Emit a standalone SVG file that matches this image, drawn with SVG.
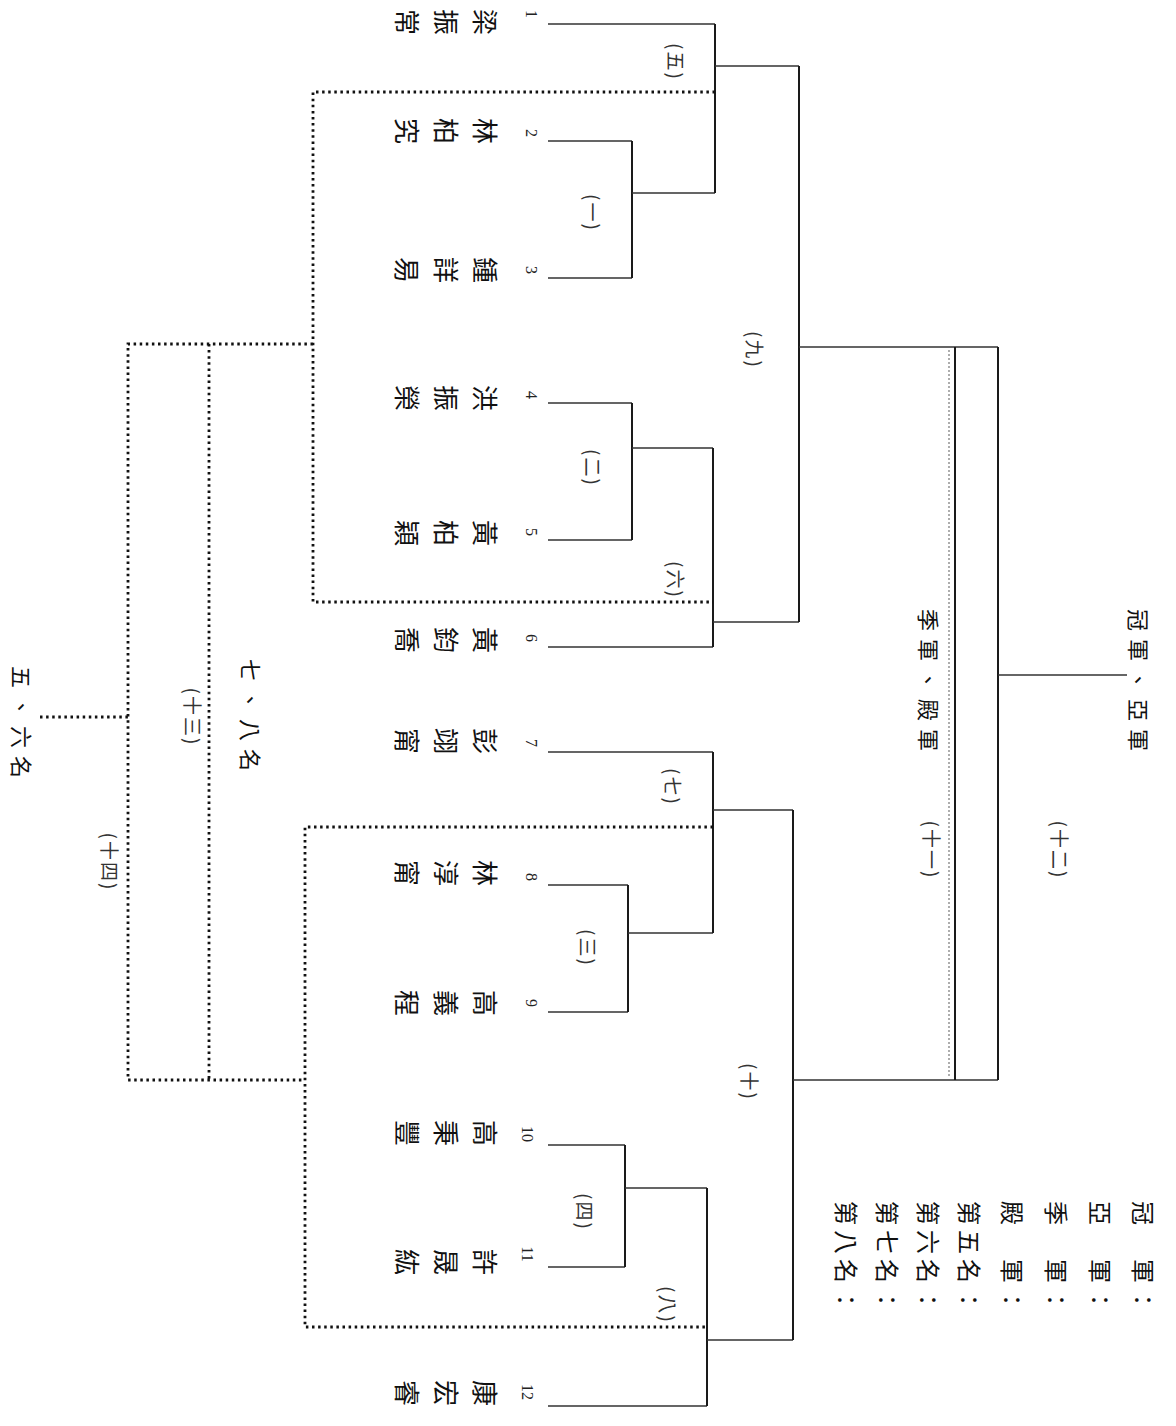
<svg xmlns="http://www.w3.org/2000/svg" width="1176" height="1426" viewBox="0 0 1176 1426">
<style>
text{font-family:"Noto Sans CJK TC","Noto Sans CJK SC",sans-serif;fill:#111;text-anchor:middle;dominant-baseline:central}
.nm{font-size:26px}
.num{font-family:"Liberation Serif",serif;font-size:16px;fill:#222}
.mt{font-size:19px;fill:#333;letter-spacing:2px}
.big{font-size:22px;letter-spacing:8px}
.leg{font-size:24px;letter-spacing:5px;text-anchor:start}
.s{stroke:#1a1a1a;stroke-width:2;fill:none}
.h{stroke:#333;stroke-width:1.6;fill:none}
.d{stroke:#111;stroke-width:2.8;stroke-dasharray:2.5 3.6;fill:none}
.g{stroke:#999;stroke-width:1.6;stroke-dasharray:2 2;fill:none}
</style>
<rect width="1176" height="1426" fill="#fff"/>
<g id="connectors">
<path class="h" d="M548 24H715M548 141H632M548 278H632M548 403H632M548 540H632M548 647H713M548 752H713M548 885H628M548 1012H628M548 1145H625M548 1267H625M548 1406H707"/>
<path class="s" d="M632 141V278M632 403V540M628 885V1012M625 1145V1267"/>
<path class="h" d="M632 193H715M632 448H713M628 933H713M625 1188H707"/>
<path class="s" d="M715 24V193M713 448V647M713 752V933M707 1188V1406"/>
<path class="h" d="M715 66H799M713 622H799M713 810H793M707 1340H793"/>
<path class="s" d="M799 66V622M793 810V1340"/>
<path class="h" d="M799 347H998M793 1080H998"/>
<path class="s" d="M998 347V1080M955 347V1080"/>
<path class="g" d="M949 350V1078"/>
<path class="h" d="M998 675H1127"/>
<path class="d" d="M715 92H313V602H713M313 344H128V1080H305M209 344V1080M713 827H305V1327H707M40 717H128"/>
</g>
<g id="players">
<g id="p1"><text class="num" transform="translate(531,14) rotate(90)">1</text><text class="nm" transform="translate(487,22) rotate(90)"><tspan x="0" y="0">梁</tspan><tspan x="0" y="39">振</tspan><tspan x="0" y="78">常</tspan></text></g>
<g id="p2"><text class="num" transform="translate(531,133) rotate(90)">2</text><text class="nm" transform="translate(487,131) rotate(90)"><tspan x="0" y="0">林</tspan><tspan x="0" y="39">柏</tspan><tspan x="0" y="78">究</tspan></text></g>
<g id="p3"><text class="num" transform="translate(531,270) rotate(90)">3</text><text class="nm" transform="translate(487,270) rotate(90)"><tspan x="0" y="0">鍾</tspan><tspan x="0" y="39">詳</tspan><tspan x="0" y="78">易</tspan></text></g>
<g id="p4"><text class="num" transform="translate(531,395) rotate(90)">4</text><text class="nm" transform="translate(487,398) rotate(90)"><tspan x="0" y="0">洪</tspan><tspan x="0" y="39">振</tspan><tspan x="0" y="78">榮</tspan></text></g>
<g id="p5"><text class="num" transform="translate(531,532) rotate(90)">5</text><text class="nm" transform="translate(487,533) rotate(90)"><tspan x="0" y="0">黃</tspan><tspan x="0" y="39">柏</tspan><tspan x="0" y="78">穎</tspan></text></g>
<g id="p6"><text class="num" transform="translate(531,638) rotate(90)">6</text><text class="nm" transform="translate(487,640) rotate(90)"><tspan x="0" y="0">黃</tspan><tspan x="0" y="39">鈞</tspan><tspan x="0" y="78">喬</tspan></text></g>
<g id="p7"><text class="num" transform="translate(531,743) rotate(90)">7</text><text class="nm" transform="translate(487,741) rotate(90)"><tspan x="0" y="0">彭</tspan><tspan x="0" y="39">翊</tspan><tspan x="0" y="78">甯</tspan></text></g>
<g id="p8"><text class="num" transform="translate(531,877) rotate(90)">8</text><text class="nm" transform="translate(487,873) rotate(90)"><tspan x="0" y="0">林</tspan><tspan x="0" y="39">淳</tspan><tspan x="0" y="78">甯</tspan></text></g>
<g id="p9"><text class="num" transform="translate(531,1003) rotate(90)">9</text><text class="nm" transform="translate(487,1003) rotate(90)"><tspan x="0" y="0">高</tspan><tspan x="0" y="39">義</tspan><tspan x="0" y="78">程</tspan></text></g>
<g id="p10"><text class="num" transform="translate(527,1134) rotate(90)">10</text><text class="nm" transform="translate(487,1133) rotate(90)"><tspan x="0" y="0">高</tspan><tspan x="0" y="39">秉</tspan><tspan x="0" y="78">豐</tspan></text></g>
<g id="p11"><text class="num" transform="translate(527,1254) rotate(90)">11</text><text class="nm" transform="translate(487,1262) rotate(90)"><tspan x="0" y="0">許</tspan><tspan x="0" y="39">晟</tspan><tspan x="0" y="78">紘</tspan></text></g>
<g id="p12"><text class="num" transform="translate(527,1392) rotate(90)">12</text><text class="nm" transform="translate(487,1393) rotate(90)"><tspan x="0" y="0">康</tspan><tspan x="0" y="39">宏</tspan><tspan x="0" y="78">睿</tspan></text></g>
</g>
<g id="matches">
<text id="m1" class="mt" transform="translate(593,213) rotate(90)">(一)</text>
<text id="m2" class="mt" transform="translate(593,468) rotate(90)">(二)</text>
<text id="m3" class="mt" transform="translate(588,948) rotate(90)">(三)</text>
<text id="m4" class="mt" transform="translate(585,1212) rotate(90)">(四)</text>
<text id="m5" class="mt" transform="translate(676,62) rotate(90)">(五)</text>
<text id="m6" class="mt" transform="translate(676,580) rotate(90)">(六)</text>
<text id="m7" class="mt" transform="translate(673,787) rotate(90)">(七)</text>
<text id="m8" class="mt" transform="translate(668,1305) rotate(90)">(八)</text>
<text id="m9" class="mt" transform="translate(755,350) rotate(90)">(九)</text>
<text id="m10" class="mt" transform="translate(750,1082) rotate(90)">(十)</text>
<text id="m11" class="mt" transform="translate(932,850) rotate(90)">(十一)</text>
<text id="m12" class="mt" transform="translate(1060,850) rotate(90)">(十二)</text>
<text id="m13" class="mt" transform="translate(193,717) rotate(90)">(十三)</text>
<text id="m14" class="mt" transform="translate(110,862) rotate(90)">(十四)</text>
</g>
<g id="results">
<text class="big" transform="translate(1140,684) rotate(90)">冠軍、亞軍</text>
<text class="big" transform="translate(930,684) rotate(90)">季軍、殿軍</text>
<text class="big" transform="translate(252,719) rotate(90)">七、八名</text>
<text class="big" transform="translate(23,726) rotate(90)">五、六名</text>
</g>
<g id="legend">
<text class="leg" transform="translate(1144,1201) rotate(90)">冠　軍：</text>
<text class="leg" transform="translate(1101,1201) rotate(90)">亞　軍：</text>
<text class="leg" transform="translate(1057,1201) rotate(90)">季　軍：</text>
<text class="leg" transform="translate(1013,1201) rotate(90)">殿　軍：</text>
<text class="leg" transform="translate(970,1201) rotate(90)">第五名：</text>
<text class="leg" transform="translate(929,1201) rotate(90)">第六名：</text>
<text class="leg" transform="translate(888,1201) rotate(90)">第七名：</text>
<text class="leg" transform="translate(847,1201) rotate(90)">第八名：</text>
</g>
</svg>
